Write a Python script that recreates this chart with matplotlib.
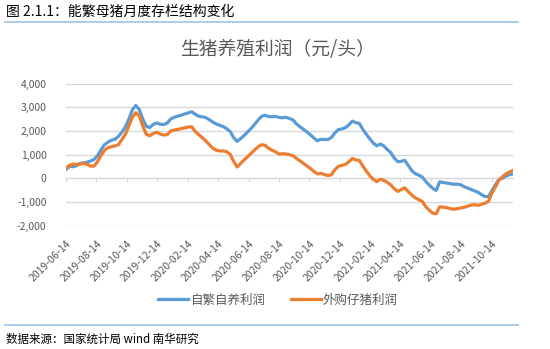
import pandas as pd
import matplotlib
matplotlib.use('Agg')
import matplotlib.pyplot as plt

plt.rcParams['font.family'] = ['Noto Sans CJK SC', 'DejaVu Sans']

# 周度数据, 2019-06-14 起
start_date = '2019-06-14'

self_breeding = [
    380, 500, 490, 535, 630, 655, 680, 730, 800, 950,
    1200, 1420, 1530, 1610, 1650, 1770, 1950, 2170, 2500, 2900,
    3080, 2900, 2500, 2200, 2150, 2280, 2340, 2290, 2270, 2340,
    2510, 2580, 2630, 2670, 2720, 2765, 2815, 2710, 2625, 2600,
    2570, 2480, 2380, 2300, 2240, 2190, 2100, 1980, 1730, 1560,
    1680, 1810, 1960, 2110, 2280, 2460, 2620, 2670, 2610, 2600,
    2620, 2575, 2560, 2580, 2530, 2470, 2300, 2180, 2070, 1960,
    1840, 1700, 1590, 1650, 1640, 1640, 1730, 1920, 2060, 2090,
    2140, 2260, 2420, 2350, 2325, 2070, 1860, 1670, 1490, 1380,
    1450, 1370, 1220, 1090, 860, 705, 720, 760, 550, 330,
    200, 140, 60, -130, -280, -420, -510, -150, -175, -200,
    -220, -250, -245, -270, -350, -410, -470, -530, -590, -690,
    -770, -770, -510, -260, -50, 5, 100, 160, 185,
]

piglet_bought = [
    450, 550, 600, 590, 600, 630, 600, 515, 520, 700,
    960, 1180, 1295, 1340, 1370, 1420, 1640, 1860, 2210, 2580,
    2775, 2640, 2200, 1860, 1800, 1900, 1950, 1870, 1830, 1850,
    2005, 2040, 2070, 2100, 2135, 2170, 2180, 1980, 1850, 1720,
    1590, 1430, 1280, 1190, 1160, 1160, 1125, 1020, 720, 480,
    630, 780, 910, 1060, 1195, 1330, 1420, 1400, 1270, 1190,
    1120, 1030, 1040, 1030, 1000, 960, 840, 740, 630, 520,
    415, 290, 190, 210, 160, 120, 150, 370, 510, 545,
    590, 700, 840, 775, 760, 520, 300, 110, -40, -140,
    -40, -80, -170, -275, -440, -550, -470, -400, -560, -700,
    -820, -900, -970, -1190, -1340, -1470, -1500, -1200, -1215, -1240,
    -1275, -1305, -1280, -1250, -1225, -1175, -1130, -1110, -1140, -1095,
    -1050, -970, -600, -350, -70, 75, 190, 270, 330,
]

tick_labels = [
    '2019-06-14', '2019-08-14', '2019-10-14', '2019-12-14', '2020-02-14',
    '2020-04-14', '2020-06-14', '2020-08-14', '2020-10-14', '2020-12-14',
    '2021-02-14', '2021-04-14', '2021-06-14', '2021-08-14', '2021-10-14',
]

dates = pd.date_range(start_date, periods=len(self_breeding), freq='7D')
tick_dates = pd.to_datetime(tick_labels)

fig = plt.figure(figsize=(5.5, 3.49), dpi=100)
ax = fig.add_axes([0.12, 0.3533, 0.8127, 0.4069])

ax.plot(dates, self_breeding, color='#5B9BD5', lw=2.3, label='自繁自养利润')
ax.plot(dates, piglet_bought, color='#ED7D31', lw=2.3, label='外购仔猪利润')

ax.set_xlim(dates[0], dates[-1])
ax.set_ylim(-2000, 4000)
ax.set_yticks(range(-2000, 4001, 1000))
ax.set_yticklabels([f'{v:,}' for v in range(-2000, 4001, 1000)])
ax.grid(axis='y', color='#D9D9D9', lw=1)
ax.set_axisbelow(True)
for s in ax.spines.values():
    s.set_visible(False)

ax.tick_params(axis='y', length=0, pad=14, labelsize=7.5, labelcolor='#595959')
ax.set_xticks(tick_dates)
ax.set_xticklabels(tick_labels, rotation=45, ha='right', rotation_mode='anchor')
ax.tick_params(axis='x', length=0, pad=9, labelsize=7.5, labelcolor='#595959')

# 零轴上的刻度线
zero_axis = ax.secondary_xaxis(1 / 3)
zero_axis.set_xticks(tick_dates)
zero_axis.set_xticklabels([])
zero_axis.tick_params(axis='x', direction='out', length=3, color='#D9D9D9')
zero_axis.spines['bottom'].set_color('#D9D9D9')

ax.legend(loc='center', bbox_to_anchor=(278 / 550, 1 - 300 / 349),
          bbox_transform=fig.transFigure, ncol=2, frameon=False, fontsize=9,
          handlelength=2.4, handletextpad=0.2, columnspacing=2.0,
          labelcolor='#595959')

fig.text(277 / 550, 1 - 50 / 349, '生猪养殖利润（元/头）', ha='center', va='center',
         fontsize=13.5, color='#595959')
fig.text(6 / 550, 1 - 12 / 349, '图 2.1.1：能繁母猪月度存栏结构变化', ha='left', va='center',
         fontsize=10, color='black')
fig.text(6 / 550, 1 - 339 / 349, '数据来源：国家统计局 wind 南华研究', ha='left', va='center',
         fontsize=8.3, color='black')
fig.add_artist(plt.Line2D([5 / 550, 518 / 550], [1 - 22 / 349, 1 - 22 / 349],
                          color='#9DC3E6', lw=1.2))
fig.add_artist(plt.Line2D([5 / 550, 518 / 550], [1 - 325 / 349, 1 - 325 / 349],
                          color='#9DC3E6', lw=1.2))

fig.savefig('out.png', dpi=100)
